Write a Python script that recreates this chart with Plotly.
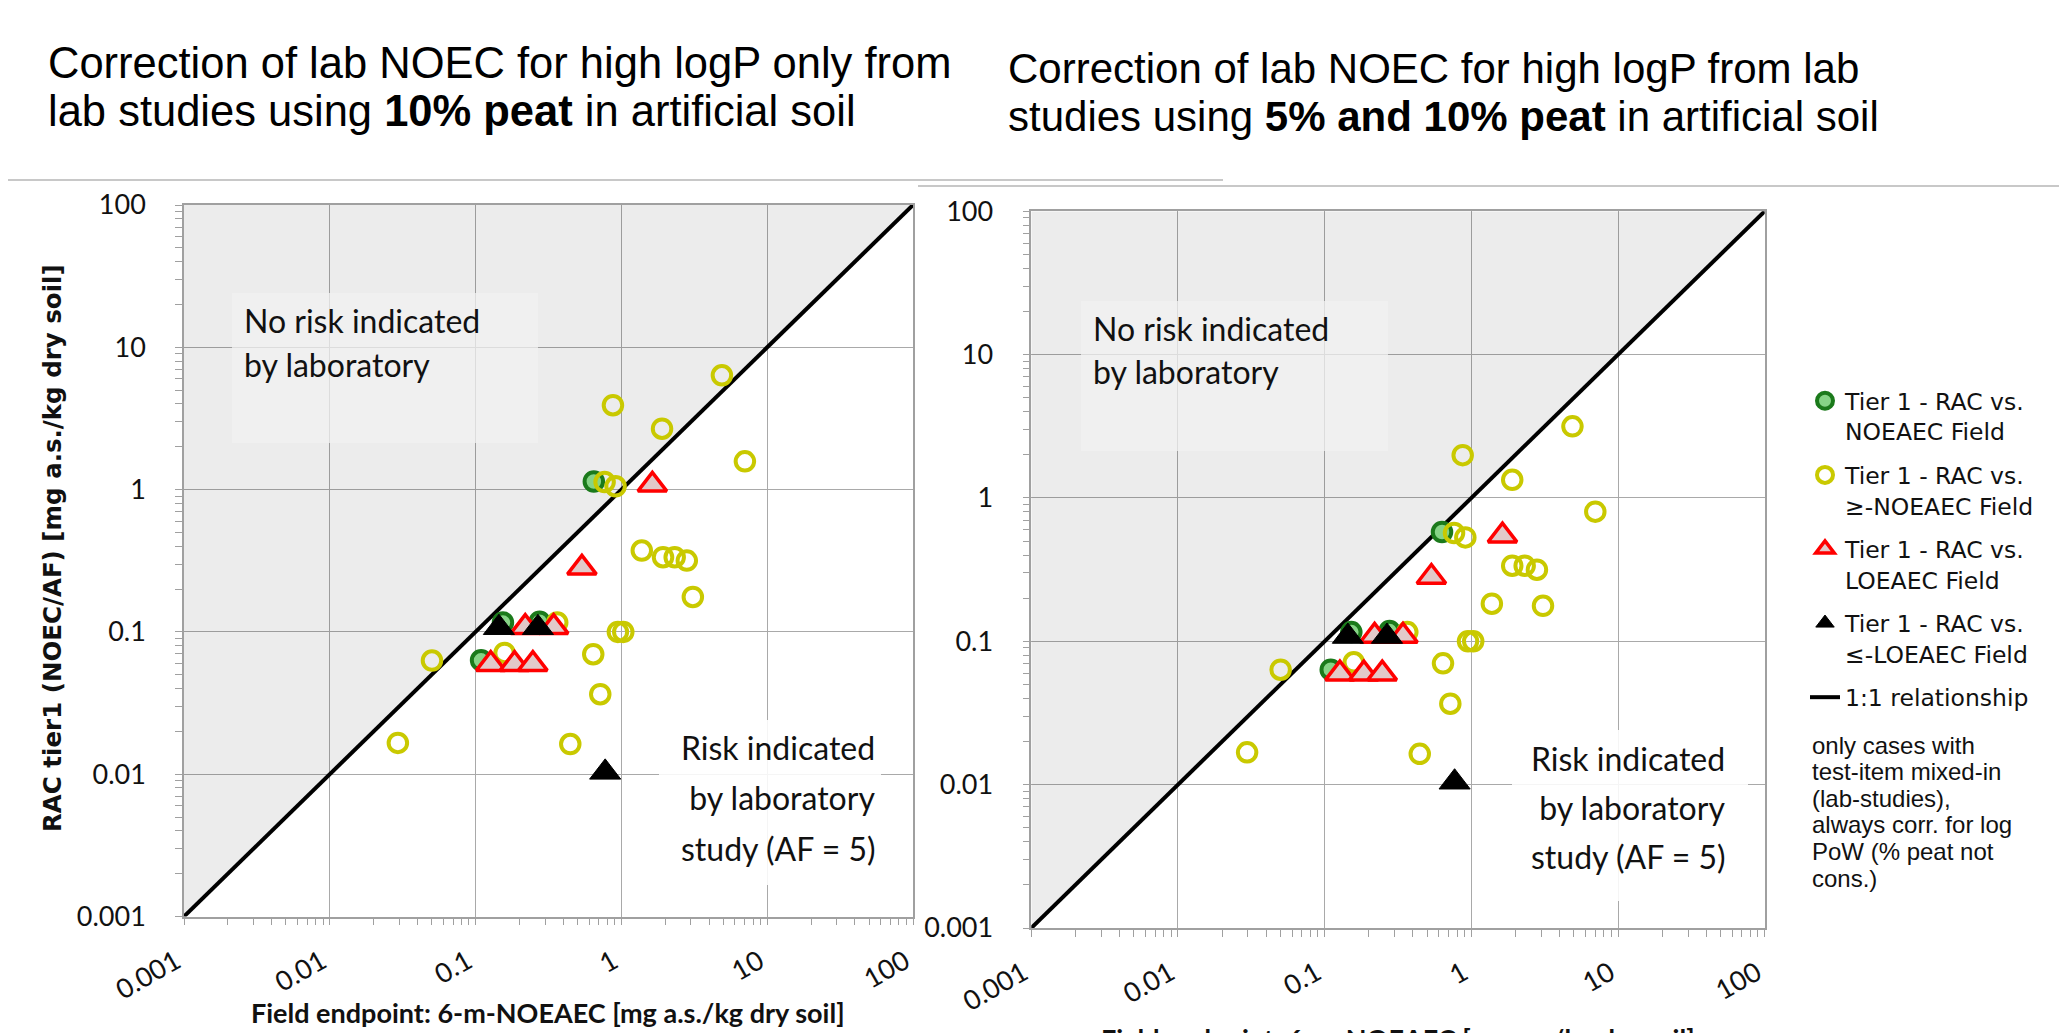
import plotly.graph_objects as go

W, H = 2067, 1033

# ---------------- axis definitions ----------------
AXIS_MIN, AXIS_MAX = 0.001, 100
TICK_VALS = [0.001, 0.01, 0.1, 1, 10, 100]
TICK_TEXT = ["0.001", "0.01", "0.1", "1", "10", "100"]
MINOR_VALS = [k * 10.0 ** e for e in range(-3, 2) for k in range(2, 10)]

# ---------------- left panel: 10% peat ----------------
L_green_x = [0.647, 0.154, 0.275, 0.109]
L_green_y = [1.14, 0.1164, 0.118, 0.0632]
L_yellow_x = [4.89, 0.875, 1.90, 7.03, 0.767, 0.912, 1.38, 1.93, 2.32, 2.81,
              3.09, 0.363, 0.946, 1.03, 0.641, 0.158, 0.716, 0.0502, 0.0293, 0.446]
L_yellow_y = [6.36, 3.92, 2.68, 1.58, 1.13, 1.055, 0.373, 0.335, 0.335, 0.317,
              0.176, 0.1164, 0.1, 0.1, 0.0697, 0.0712, 0.0365, 0.0629, 0.0166, 0.0163]
L_red_x = [1.63, 0.536, 0.219, 0.343, 0.127, 0.185, 0.247]
L_red_y = [1.08, 0.282, 0.108, 0.108, 0.0593, 0.0593, 0.0593]
L_black_x = [0.1445, 0.2676, 0.774]
L_black_y = [0.107, 0.107, 0.0103]

# ---------------- right panel: 5% and 10% peat ----------------
R_green_x = [0.631, 0.152, 0.277, 0.110]
R_green_y = [0.579, 0.116, 0.118, 0.0634]
R_yellow_x = [4.89, 0.873, 1.90, 7.0, 0.762, 0.910, 1.90, 2.31, 2.80, 1.38,
              3.08, 0.366, 0.949, 1.03, 0.641, 0.158, 0.719, 0.0501, 0.0296, 0.445]
R_yellow_y = [3.16, 1.99, 1.34, 0.803, 0.570, 0.531, 0.337, 0.337, 0.316, 0.183,
              0.177, 0.116, 0.1, 0.1, 0.0702, 0.0714, 0.0367, 0.0634, 0.0168, 0.0164]
R_red_x = [1.63, 0.534, 0.219, 0.342, 0.127, 0.185, 0.247]
R_red_y = [0.546, 0.281, 0.109, 0.109, 0.0595, 0.0595, 0.0595]
R_black_x = [0.144, 0.266, 0.769]
R_black_y = [0.108, 0.108, 0.0104]

SERIES_NAMES = ["Tier 1 - RAC vs.<br>NOEAEC Field",
                "Tier 1 - RAC vs.<br>≥-NOEAEC Field",
                "Tier 1 - RAC vs.<br>LOEAEC Field",
                "Tier 1 - RAC vs.<br>≤-LOEAEC Field",
                "1:1 relationship"]

NOTE_LINES = ["only cases with", "test-item mixed-in", "(lab-studies),", "always corr. for log",
              "PoW (% peat not", "cons.)"]


def px(x):
    return x / W


def py(y):
    return 1 - y / H


fig = go.Figure()

GREEN = dict(symbol="circle", size=18.5, color="#86d486", line=dict(color="#1b7a1b", width=4))
YELLOW = dict(symbol="circle", size=18.5, color="rgba(0,0,0,0)", line=dict(color="#c9c900", width=4))
RED = dict(symbol="triangle-up", size=25, color="#e2c9c9", line=dict(color="#ff0000", width=3.5))
BLACK = dict(symbol="triangle-up", size=27, color="#000000", line=dict(color="#000000", width=1))


def add_panel(xa, ya, gx, gy, yx, yy, rx, ry, bx, by, show):
    # shaded "no risk" region above the 1:1 line
    fig.add_trace(go.Scatter(x=[AXIS_MIN, AXIS_MAX, AXIS_MIN], y=[AXIS_MIN, AXIS_MAX, AXIS_MAX],
                             fill="toself", fillcolor="rgba(0,0,0,0.075)", line=dict(width=0),
                             mode="lines", hoverinfo="skip", showlegend=False, xaxis=xa, yaxis=ya))
    fig.add_trace(go.Scatter(x=[AXIS_MIN, AXIS_MAX], y=[AXIS_MIN, AXIS_MAX], mode="lines",
                             line=dict(color="black", width=4), name=SERIES_NAMES[4],
                             showlegend=show, legendgroup="g5", legendrank=5, xaxis=xa, yaxis=ya))
    for (xs, ys, mk, i) in [(gx, gy, GREEN, 0), (yx, yy, YELLOW, 1), (rx, ry, RED, 2), (bx, by, BLACK, 3)]:
        fig.add_trace(go.Scatter(x=xs, y=ys, mode="markers", marker=mk, name=SERIES_NAMES[i],
                                 showlegend=show, legendgroup="g%d" % (i + 1), legendrank=i + 1,
                                 xaxis=xa, yaxis=ya))


add_panel("x", "y", L_green_x, L_green_y, L_yellow_x, L_yellow_y, L_red_x, L_red_y, L_black_x, L_black_y, True)
add_panel("x2", "y2", R_green_x, R_green_y, R_yellow_x, R_yellow_y, R_red_x, R_red_y, R_black_x, R_black_y, False)

TICKFONT = dict(family="Lato", size=27, color="#111111")
common = dict(type="log", range=[-3, 2], tickmode="array", tickvals=TICK_VALS, ticktext=TICK_TEXT,
              showgrid=True, gridcolor="#a9a9a9", gridwidth=1.3, zeroline=False,
              showline=True, linecolor="#a0a0a0", linewidth=1.5, mirror=True,
              ticks="outside", ticklen=7, tickcolor="#a0a0a0", tickwidth=1.3,
              minor=dict(tickmode="array", tickvals=MINOR_VALS, ticks="outside", ticklen=7,
                         tickcolor="#a0a0a0", tickwidth=1.3, showgrid=False),
              tickfont=TICKFONT, automargin=False)

L_X0, L_X1, L_Y0, L_Y1 = 176, 905, 197, 908.5
R_X0, R_X1, R_Y0, R_Y1 = 1023.3, 1756.7, 203.3, 920

fig.update_layout(
    width=W, height=H,
    margin=dict(l=0, r=0, t=0, b=0),
    paper_bgcolor="white", plot_bgcolor="white",
    xaxis=dict(domain=[px(L_X0), px(L_X1)], anchor="y", tickangle=-30, ticklabelstandoff=10,
               ticklabelshift=-8, **common),
    yaxis=dict(domain=[py(L_Y1), py(L_Y0)], anchor="x", ticklabelstandoff=24, **common),
    xaxis2=dict(domain=[px(R_X0), px(R_X1)], anchor="y2", tickangle=-30, ticklabelstandoff=10,
                ticklabelshift=-8, **common),
    yaxis2=dict(domain=[py(R_Y1), py(R_Y0)], anchor="x2", ticklabelstandoff=24, **common),
    showlegend=True,
    legend=dict(x=px(1797), y=py(371), xanchor="left", yanchor="top",
                font=dict(family="DejaVu Sans", size=23.5, color="#111111"),
                bgcolor="rgba(0,0,0,0)", tracegroupgap=10, valign="top", itemsizing="trace"),
)

shapes = []
# decorative separator lines under titles
shapes.append(dict(type="line", xref="paper", yref="paper", x0=px(0), x1=px(1215), y0=py(172), y1=py(172),
                   line=dict(color="#c8c8c8", width=2)))
shapes.append(dict(type="line", xref="paper", yref="paper", x0=px(910), x1=px(2067), y0=py(178), y1=py(178),
                   line=dict(color="#c8c8c8", width=2)))
# text boxes
for (x0, x1, y0, y1, col) in [(224, 530, 285, 435, "rgba(241,241,241,0.75)"),
                              (1073, 1380, 293, 443, "rgba(241,241,241,0.75)"),
                              (651, 873, 712, 877, "rgba(255,255,255,0.88)"),
                              (1504, 1740, 722, 893, "rgba(255,255,255,0.88)")]:
    shapes.append(dict(type="rect", xref="paper", yref="paper", x0=px(x0), x1=px(x1), y0=py(y1), y1=py(y0),
                       fillcolor=col, line=dict(width=0), layer="above"))
fig.update_layout(shapes=shapes)

ann = []


def text(x, y, s, font, xanchor="left", angle=0):
    ann.append(dict(x=px(x), y=py(y), xref="paper", yref="paper", text=s, showarrow=False,
                    xanchor=xanchor, yanchor="middle", font=font, textangle=angle))


TFL = dict(family="Liberation Sans", size=43.5, color="black")
TFR = dict(family="Liberation Sans", size=42, color="black")
text(38, 55, "Correction of lab NOEC for high logP only from", TFL)
text(38, 103, "lab studies using <b>10% peat</b> in artificial soil", TFL)
text(998, 60, "Correction of lab NOEC for high logP from lab", TFR)
text(998, 108, "studies using <b>5% and 10% peat</b> in artificial soil", TFR)

BF = dict(family="Lato", size=32, color="#111111")
text(234, 312, "No risk indicated", BF)
text(234, 356, "by laboratory", BF)
text(1083, 320, "No risk indicated", BF)
text(1083, 364, "by laboratory", BF)
for (cx, ys) in [(770, [739, 789, 840]), (1620, [750, 799, 848])]:
    text(cx, ys[0], "Risk indicated", BF, "center")
    text(cx, ys[1], " by laboratory", BF, "center")
    text(cx, ys[2], "study (AF = 5)", BF, "center")

text(44, 540, "<b>RAC tier1 (NOEC/AF) [mg a.s./kg dry soil]</b>",
     dict(family="DejaVu Sans", size=24.5, color="#111111"), "center", -90)
XT = dict(family="Lato", size=27, color="#111111")
text(540, 1004, "<b>Field endpoint: 6-m-NOEAEC [mg a.s./kg dry soil]</b>", XT, "center")
text(1390, 1030, "<b>Field endpoint: 6-m-NOEAEC [mg a.s./kg dry soil]</b>", XT, "center")

NF = dict(family="Liberation Sans", size=24, color="#111111")
for i, s in enumerate(NOTE_LINES):
    text(1802, 737 + 26.6 * i, s, NF)

fig.update_layout(annotations=ann)
fig.write_html("out.html")
